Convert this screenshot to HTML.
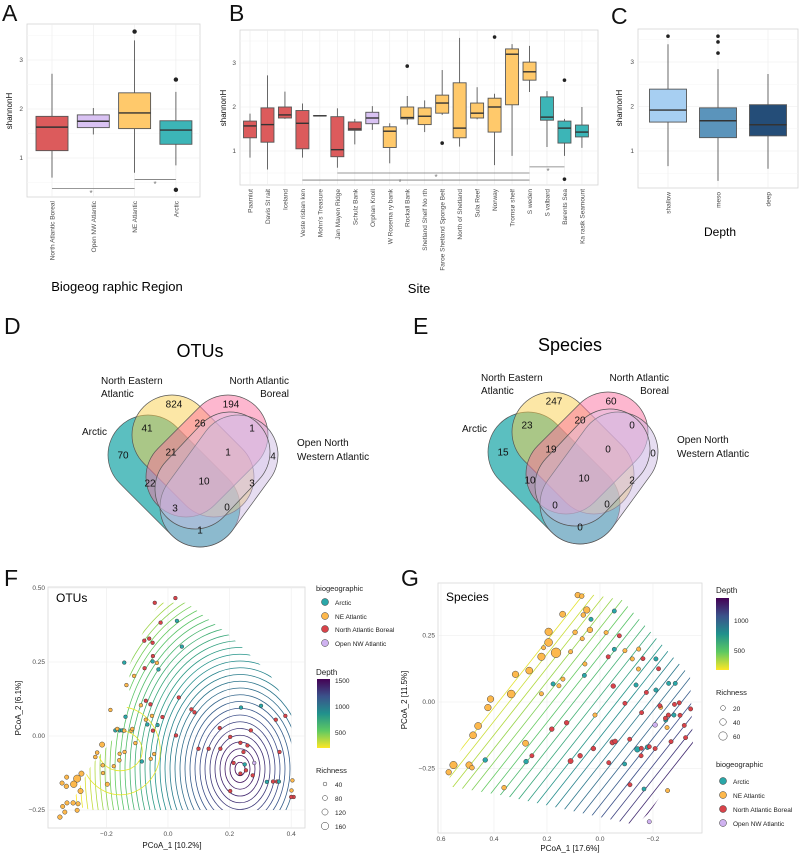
<!DOCTYPE html>
<html><head><meta charset="utf-8">
<style>
html,body{margin:0;padding:0;background:#fff;width:800px;height:854px;overflow:hidden;}
svg{display:block;font-family:"Liberation Sans",sans-serif;}
.tk{font-size:6.5px;fill:#4d4d4d;}
.xl{font-size:6.5px;fill:#4d4d4d;}
.ax{font-size:8px;fill:#111;}
.lg{font-size:7px;fill:#222;}
.vn{font-size:10px;fill:#111;}
.letter{font-size:23px;fill:#111;}
</style></head>
<body>
<svg id="fig" width="800" height="854" viewBox="0 0 800 854" xmlns="http://www.w3.org/2000/svg" overflow="hidden">
<defs>
<linearGradient id="vir" x1="0" y1="1" x2="0" y2="0">
<stop offset="0" stop-color="#fde725"/><stop offset="0.25" stop-color="#5ec962"/><stop offset="0.5" stop-color="#21918c"/><stop offset="0.75" stop-color="#3b528b"/><stop offset="1" stop-color="#440154"/>
</linearGradient>
</defs>
<text x="2" y="21" class="letter">A</text>
<text x="229" y="21" class="letter">B</text>
<text x="611" y="24" class="letter">C</text>
<text x="4" y="334" class="letter">D</text>
<text x="413" y="334" class="letter">E</text>
<text x="4" y="586" class="letter">F</text>
<text x="401" y="586" class="letter">G</text>

<text x="117" y="291" text-anchor="middle" style="font-size:13px">Biogeog  raphic Region</text>
<text transform="translate(12,111) rotate(-90)" text-anchor="middle" class="ax">shannonH</text>
<text x="419" y="293" text-anchor="middle" style="font-size:13px">Site</text>
<text transform="translate(226,108) rotate(-90)" text-anchor="middle" class="ax">shannonH</text>
<text x="720" y="236" text-anchor="middle" style="font-size:12px">Depth</text>
<text transform="translate(622,108) rotate(-90)" text-anchor="middle" class="ax">shannonH</text>

<g id="venns"></g>
<text x="200" y="357" text-anchor="middle" style="font-size:18px">OTUs</text>
<text x="570" y="351" text-anchor="middle" style="font-size:18px">Species</text>

<g id="F"></g>
<g id="G"></g>
<text x="172" y="848" text-anchor="middle" class="ax">PCoA_1 [10.2%]</text>
<text transform="translate(21,708) rotate(-90)" text-anchor="middle" class="ax">PCoA_2 [6.1%]</text>
<text x="570" y="851" text-anchor="middle" class="ax">PCoA_1 [17.6%]</text>
<text transform="translate(407,700) rotate(-90)" text-anchor="middle" class="ax">PCoA_2 [11.5%]</text>
<text x="56" y="602" style="font-size:12px">OTUs</text>
<text x="446" y="601" style="font-size:12px">Species</text>

<g>
<text x="316" y="591" class="lg" style="font-size:7.5px">biogeographic</text>
<circle cx="325" cy="602" r="3.5" fill="#2aa7a8" stroke="#333" stroke-width="0.5"/><text x="335" y="605" class="lg" style="font-size:6.5px">Arctic</text>
<circle cx="325" cy="616" r="3.5" fill="#fdb84c" stroke="#333" stroke-width="0.5"/><text x="335" y="619" class="lg" style="font-size:6.5px">NE Atlantic</text>
<circle cx="325" cy="629" r="3.5" fill="#d9434a" stroke="#333" stroke-width="0.5"/><text x="335" y="632" class="lg" style="font-size:6.5px">North Atlantic Boreal</text>
<circle cx="325" cy="643" r="3.5" fill="#cfb2f0" stroke="#333" stroke-width="0.5"/><text x="335" y="646" class="lg" style="font-size:6.5px">Open NW Atlantic</text>
<text x="316" y="675" class="lg" style="font-size:8px">Depth</text>
<rect x="317" y="679" width="13" height="69" fill="url(#vir)"/>
<text x="335" y="683" class="lg" style="font-size:6.5px">1500</text>
<text x="335" y="709" class="lg" style="font-size:6.5px">1000</text>
<text x="335" y="735" class="lg" style="font-size:6.5px">500</text>
<text x="316" y="773" class="lg" style="font-size:7.5px">Richness</text>
<circle cx="325" cy="784" r="1.9" fill="none" stroke="#333" stroke-width="0.5"/><text x="335" y="787" class="lg" style="font-size:6.5px">40</text>
<circle cx="325" cy="798" r="2.5" fill="none" stroke="#333" stroke-width="0.5"/><text x="335" y="801" class="lg" style="font-size:6.5px">80</text>
<circle cx="325" cy="812" r="3.1" fill="none" stroke="#333" stroke-width="0.5"/><text x="335" y="815" class="lg" style="font-size:6.5px">120</text>
<circle cx="325" cy="826" r="3.7" fill="none" stroke="#333" stroke-width="0.5"/><text x="335" y="829" class="lg" style="font-size:6.5px">160</text>
</g>
<g>
<text x="716" y="593" class="lg" style="font-size:8px">Depth</text>
<rect x="716" y="598" width="13" height="72" fill="url(#vir)"/>
<text x="734" y="623" class="lg" style="font-size:6.5px">1000</text>
<text x="734" y="653" class="lg" style="font-size:6.5px">500</text>
<text x="716" y="695" class="lg" style="font-size:7.5px">Richness</text>
<circle cx="723" cy="708" r="2.4" fill="none" stroke="#333" stroke-width="0.5"/><text x="733" y="711" class="lg" style="font-size:6.5px">20</text>
<circle cx="723" cy="722" r="3.3" fill="none" stroke="#333" stroke-width="0.5"/><text x="733" y="725" class="lg" style="font-size:6.5px">40</text>
<circle cx="723" cy="736" r="4.2" fill="none" stroke="#333" stroke-width="0.5"/><text x="733" y="739" class="lg" style="font-size:6.5px">60</text>
<text x="716" y="767" class="lg" style="font-size:7.5px">biogeographic</text>
<circle cx="723" cy="781" r="3.5" fill="#2aa7a8" stroke="#333" stroke-width="0.5"/><text x="733" y="784" class="lg" style="font-size:6.5px">Arctic</text>
<circle cx="723" cy="795" r="3.5" fill="#fdb84c" stroke="#333" stroke-width="0.5"/><text x="733" y="798" class="lg" style="font-size:6.5px">NE Atlantic</text>
<circle cx="723" cy="809" r="3.5" fill="#d9434a" stroke="#333" stroke-width="0.5"/><text x="733" y="812" class="lg" style="font-size:6.5px">North Atlantic Boreal</text>
<circle cx="723" cy="823" r="3.5" fill="#cfb2f0" stroke="#333" stroke-width="0.5"/><text x="733" y="826" class="lg" style="font-size:6.5px">Open NW Atlantic</text>
</g>
</svg>
<script>
// ===== Panel A data =====
const catsA = ["North Atlantic Boreal","Open NW Atlantic","NE Atlantic","Arctic"];
const lowA = [0.6,1.48,0.7,0.85];
const q1A = [1.15,1.62,1.6,1.28];
const medA = [1.63,1.75,1.92,1.57];
const q3A = [1.85,1.88,2.33,1.76];
const highA = [2.72,2.02,3.4,2.35];
const outA = [[],[],[3.58],[2.6,0.35]];
const fillA = ["#dc5b5c","#d9c2f3","#ffc96b","#3cb5b7"];
// ===== Panel B data =====
const catsB = ["Paamiut","Davis St rait","Iceland","Veste risban ken","Mohn's Treasure","Jan Mayen Ridge","Schulz Bank","Orphan Knoll","W Rosema  ry bank","Rockall Bank","Shetland Shelf No  rth","Faroe Shetland Sponge Belt","North of Shetland","Sula Reef","Norway","Tromsø shelf","S weden","S valbard","Barents Sea","Ka rasik Seamount"];
const lowB = [0.85,0.58,1.73,0.85,1.8,0.62,1.15,1.48,0.72,1.6,1.43,1.82,1.1,1.72,0.68,0.89,2.34,1.09,0.89,1.07];
const q1B = [1.3,1.2,1.75,1.05,1.8,0.87,1.47,1.62,1.08,1.73,1.6,1.86,1.3,1.75,1.43,2.05,2.61,1.7,1.18,1.32];
const medB = [1.57,1.6,1.82,1.63,1.8,1.03,1.5,1.75,1.45,1.76,1.79,2.09,1.52,1.86,2.0,3.2,2.8,1.77,1.52,1.43];
const q3B = [1.68,1.98,2.0,1.92,1.8,1.78,1.66,1.88,1.55,2.0,1.98,2.27,2.55,2.09,2.2,3.32,3.02,2.23,1.68,1.59];
const highB = [1.85,2.72,2.35,2.08,1.8,1.97,1.73,2.02,1.63,2.25,2.15,2.84,3.57,2.45,2.3,3.43,3.39,2.36,1.73,2.0];
const outB = [[],[],[],[],[],[],[],[],[],[2.93],[],[1.18],[],[],[3.59],[],[],[],[2.61,0.36],[]];
const groupB = ["B","B","B","B","B","B","B","O","N","N","N","N","N","N","N","N","N","A","A","A"];
// ===== Panel C data =====
const catsC = ["shallow","meso","deep"];
const lowC = [0.66,0.33,0.6];
const q1C = [1.65,1.3,1.34];
const medC = [1.92,1.68,1.59];
const q3C = [2.39,1.97,2.04];
const highC = [3.4,2.84,2.73];
const outC = [[3.58],[3.58,3.45,3.2],[]];
const fillC = ["#a7cff2","#5b94bb","#244d78"];
const yTicks = [1,2,3];

const GCOL = {A:"#2aa7a8",N:"#fdb84c",B:"#d9434a",O:"#cfb2f0"};
const BOXCOL = {A:"#3cb5b7",N:"#ffc96b",B:"#dc5b5c",O:"#d9c2f3"};

const NS = "http://www.w3.org/2000/svg";
const svg = document.getElementById("fig");
function mk(tag, attrs, parent){
  const e = document.createElementNS(NS, tag);
  for (const k in attrs) e.setAttribute(k, attrs[k]);
  (parent || svg).appendChild(e);
  return e;
}

function boxPanel(P){
  const g = mk("g", {});
  
  
  const bg = mk("rect", {x:P.x0, y:P.y0, width:P.x1-P.x0, height:P.y1-P.y0, fill:"#fff", stroke:"#d4d4d4", "stroke-width":0.8}, g);
  
  
  const n = P.cats.length;
  const xs = i => P.xa + i * P.dx;
  for (let v = 0.5; v <= 3.5; v += 0.5) {
    const yy = P.y(v);
    if (yy < P.y0 || yy > P.y1) continue;
    const gl = mk("line", {x1:P.x0, x2:P.x1, y1:yy, y2:yy, stroke: (v % 1 === 0) ? "#ebebeb" : "#f5f5f5", "stroke-width":0.6}, g);
    
    
  }
  yTicks.forEach(v => {
    const t = mk("text", {x:P.x0-4, y:P.y(v)+2, "text-anchor":"end", class:"tk"}, g);
    t.textContent = v;
    
    
  });
  for (let i = 0; i < n; i++) {
    const cx = xs(i);
    const vl = mk("line", {x1:cx, x2:cx, y1:P.y0, y2:P.y1, stroke:"#ebebeb", "stroke-width":0.6}, g);
    
    
    const w = mk("line", {x1:cx, x2:cx, y1:P.y(P.hi[i]), y2:P.y(P.lo[i]), stroke:"#444", "stroke-width":0.8}, g);
    
    
    const b = mk("rect", {x:cx-P.bw/2, y:P.y(P.q3[i]), width:P.bw, height:Math.max(0.01, P.y(P.q1[i])-P.y(P.q3[i])), fill:P.fill(i), stroke:"#555", "stroke-width":0.9}, g);
    
    
    const m = mk("line", {x1:cx-P.bw/2, x2:cx+P.bw/2, y1:P.y(P.med[i]), y2:P.y(P.med[i]), stroke:"#333", "stroke-width":1.4}, g);
    
    
    P.out[i].forEach(o => {
      const c = mk("circle", {cx:cx, cy:P.y(o), r:P.or, fill:"#222"}, g);
      
      
    });
    const lab = mk("text", {transform:`translate(${cx+2.5},${P.y1+4}) rotate(-90)`, "text-anchor":"end", class:"xl"}, g);
    lab.textContent = P.cats[i];
    
    
  }
  return {g, xs};
}
function bracket(g, x1, x2, yy, tick, sx, sy){
  const p = mk("path", {d:`M${x1},${yy-tick}V${yy}H${x2}V${yy-tick}`, fill:"none", stroke:"#777", "stroke-width":0.8}, g);
  
  
  const s = mk("text", {x:sx, y:sy, "text-anchor":"middle", style:"font-size:8px;fill:#777"}, g);
  s.textContent = "*";
  
  
}

const yA = v => 158 - (v-1)*49;
const pa = boxPanel({name:"panel-a-boxplot", x0:27, x1:200, y0:24, y1:197, xa:52, dx:41.3, bw:32, or:2.2, y:yA, cats:catsA, lo:lowA, q1:q1A, med:medA, q3:q3A, hi:highA, out:outA, fill:i=>fillA[i]});
bracket(pa.g, pa.xs(0), pa.xs(2), yA(0.38), 0, 91, 196);
bracket(pa.g, pa.xs(2), pa.xs(3), yA(0.56), 0, 155, 187);
const yB = v => 151 - (v-1)*44;
const pb = boxPanel({name:"panel-b-boxplot", x0:240, x1:598, y0:30, y1:185, xa:250, dx:17.47, bw:13, or:1.8, y:yB, cats:catsB, lo:lowB, q1:q1B, med:medB, q3:q3B, hi:highB, out:outB, fill:i=>BOXCOL[groupB[i]]});
bracket(pb.g, pb.xs(3), pb.xs(16), yB(0.34), 0, 400, 185);
bracket(pb.g, pb.xs(5), pb.xs(16), yB(0.5), 0, 436, 180);
bracket(pb.g, pb.xs(16), pb.xs(18), yB(0.64), 0, 548, 174);
const yC = v => 151 - (v-1)*44.5;
boxPanel({name:"panel-c-boxplot", x0:638, x1:798, y0:29, y1:188, xa:668, dx:50, bw:37, or:1.8, y:yC, cats:catsC, lo:lowC, q1:q1C, med:medC, q3:q3C, hi:highC, out:outC, fill:i=>fillC[i]});

// ===== Venn data =====
const vennD = [824,194,41,26,1,70,21,1,4,22,10,3,3,0,1];
const vennE = [247,60,23,20,0,15,19,0,0,10,10,2,0,0,0];
const vennPos = [[174,404],[231,404],[147,428],[200,423],[252,428],[123,455],[171,452],[228,452],[273,456],[150,483],[204,481],[252,483],[175,508],[227,507],[200,530]];
function venn(ox, oy, vals, name){
  const g = mk("g", {transform:`translate(${ox},${oy})`}, document.getElementById("venns"));
  
  
  const shapes = [
    {a:[148,455], b:[200,507], fill:"#24a9ab", op:0.75, n:"arctic-set"},
    {a:[172,435], b:[214,477], fill:"#f9cf4e", op:0.5, n:"ne-atlantic-set"},
    {a:[228,435], b:[186,477], fill:"#fb70a0", op:0.5, n:"na-boreal-set"},
    {a:[238,455], b:[200,507], fill:"#c7b3e0", op:0.45, n:"open-nw-atlantic-set"},
    {a:[230,452], b:[195,489], fill:"#d6c4ea", op:0.35, n:"open-nw-atlantic-core"}
  ];
  const r = 40;
  shapes.forEach(s => {
    const cx = (s.a[0]+s.b[0])/2, cy = (s.a[1]+s.b[1])/2;
    const L = Math.hypot(s.b[0]-s.a[0], s.b[1]-s.a[1]) + 2*r;
    const ang = Math.atan2(s.b[1]-s.a[1], s.b[0]-s.a[0]) * 180 / Math.PI;
    const e = mk("rect", {x:cx-L/2, y:cy-r, width:L, height:2*r, rx:r, ry:r, fill:s.fill, "fill-opacity":s.op, stroke:"#555", "stroke-width":0.7, transform:`rotate(${ang},${cx},${cy})`}, g);
    
    
  });
  vals.forEach((v, i) => {
    const t = mk("text", {x:vennPos[i][0], y:vennPos[i][1]+3.5, "text-anchor":"middle", class:"vn"}, g);
    t.textContent = v;
    
    
  });
  const labs = [["North Eastern",101,384,"start"],["Atlantic",101,397,"start"],["North  Atlantic",289,384,"end"],["Boreal",289,397,"end"],["Arctic",82,435,"start"],["Open North",297,446,"start"],["Western  Atlantic",297,460,"start"]];
  labs.forEach(l => {
    const t = mk("text", {x:l[1], y:l[2], "text-anchor":l[3], class:"vn"}, g);
    t.textContent = l[0];
    
    
  });
}
venn(0, 0, vennD, "venn-otus");
venn(380, -3, vennE, "venn-species");

const VS = [[0,[68,1,84]],[0.25,[59,82,139]],[0.5,[33,145,140]],[0.75,[94,201,98]],[1,[253,231,37]]];
function viridis(t){
  t = Math.max(0, Math.min(1, t));
  for (let i = 0; i < VS.length-1; i++) {
    if (t <= VS[i+1][0]) {
      const a = VS[i], b = VS[i+1], f = (t-a[0])/(b[0]-a[0]);
      return `rgb(${a[1].map((c,j)=>Math.round(c+(b[1][j]-c)*f)).join(",")})`;
    }
  }
  return "rgb(253,231,37)";
}

// ===== Panel F data =====
const fX = [0.024,-0.043,-0.024,-0.077,-0.061,-0.05,-0.049,-0.076,-0.057,-0.018,-0.049,-0.072,0.076,0.086,0.026,0.035,0.099,0.132,0.17,0.202,0.235,0.269,0.258,0.245,0.213,0.253,0.235,0.275,0.202,0.381,0.35,0.362,0.341,0.354,0.408,0.4,0.168,
 0.029,0.045,-0.142,-0.05,-0.031,-0.138,-0.171,-0.157,-0.148,-0.067,-0.034,0.237,0.302,0.249,0.321,0.36,-0.085,
 -0.036,-0.135,-0.11,-0.187,-0.165,-0.142,-0.119,-0.106,-0.141,-0.045,-0.056,-0.088,-0.052,-0.072,-0.116,-0.176,-0.211,0.404,0.401,
 0.28,
 -0.214,-0.23,-0.236,-0.212,-0.158,-0.157,-0.197,-0.295,-0.281,-0.284,-0.306,-0.329,-0.344,-0.33,-0.328,-0.308,-0.292,-0.295,-0.342,-0.335,-0.351];
const fY = [0.466,0.45,0.383,0.322,0.329,0.315,0.27,0.229,0.107,0.064,0.018,0.119,0.09,0.08,0.002,0.13,-0.043,-0.043,-0.043,-0.003,-0.023,0.019,-0.032,-0.054,-0.091,-0.116,-0.127,-0.133,-0.186,0.068,0.055,-0.054,-0.154,-0.154,-0.206,-0.206,0.027,
 0.389,0.302,0.248,0.252,0.225,0.065,0.019,0.019,0.019,0.039,0.037,0.096,0.102,-0.096,-0.155,-0.154,-0.086,
 0.247,0.172,0.203,0.088,0.024,0.018,0.018,-0.024,-0.054,-0.061,-0.077,0.104,0.068,0.055,0.024,-0.102,-0.125,-0.15,-0.184,
 -0.091,
 -0.029,-0.056,-0.071,-0.099,-0.082,-0.06,-0.163,-0.144,-0.127,-0.186,-0.163,-0.139,-0.159,-0.17,-0.226,-0.226,-0.229,-0.251,-0.238,-0.257,-0.274];
const fGroup = "BBBBBBBBBBBBBBBBBBBBBBBBBBBBBBBBBBBBB" + "AAAAAAAAAAAAAAAAA" + "NNNNNNNNNNNNNNNNNNN" + "O" + "NNNNNNNNNNNNNNNNNNNNN";
const fRich = [].concat(Array(37).fill(40), Array(17).fill(40), Array(19).fill(40), [40],
 [91,46,46,40,46,40,60,158,91,91,136,60,60,69,60,69,60,60,60,60,69]);
const fDepthLevels = [1475,1435,1395,1355,1315,1275,1235,1195,1155,1115,1075,1035,995,955,915,875,835,795,755,715,675,635,595,555,515,475,435,395,355,315,275,235,195];
const fTicksX = [-0.2,0.0,0.2,0.4];
const fTicksY = [-0.25,0.00,0.25,0.50];
const fHull = [[-0.3,-0.2],[-0.25,-0.1],[-0.17,0.0],[-0.125,0.12],[-0.125,0.24],[-0.09,0.33],[-0.06,0.40],[-0.02,0.45],[0.06,0.45],[0.2,0.34],[0.33,0.21],[0.4,0.08],[0.4,-0.25],[-0.12,-0.25],[-0.25,-0.25],[-0.32,-0.23]];

const fx = v => 168 + v*308;
const fy = v => 736 - v*296;
function scatterPanel(P){
  const g = mk("g", {}, document.getElementById(P.id));
  
  
  const bg = mk("rect", {x:P.x0, y:P.y0, width:P.x1-P.x0, height:P.y1-P.y0, fill:"#fff", stroke:"#d8d8d8", "stroke-width":0.8}, g);
  
  
  P.tx.forEach(v => {
    const xx = P.X(v);
    const l = mk("line", {x1:xx, x2:xx, y1:P.y0, y2:P.y1, stroke:"#ececec", "stroke-width":0.6}, g);
    
    
    const t = mk("text", {x:xx, y:P.y1+8, "text-anchor":"middle", class:"tk"}, g);
    t.textContent = (v < 0 ? "\u2212" : "") + Math.abs(v).toFixed(1);
    
    
  });
  P.ty.forEach(v => {
    const yy = P.Y(v);
    if (yy < P.y0-1 || yy > P.y1+1) return;
    const l = mk("line", {x1:P.x0, x2:P.x1, y1:yy, y2:yy, stroke:"#ececec", "stroke-width":0.6}, g);
    
    
    const t = mk("text", {x:P.x0-3, y:yy+2, "text-anchor":"end", class:"tk"}, g);
    t.textContent = (v < 0 ? "\u2212" : "") + Math.abs(v).toFixed(2);
    
    
  });
  const cp = mk("clipPath", {id:P.id+"clip"}, g);
  const poly = mk("polygon", {points:P.hull.map(p=>p.join(",")).join(" ")}, cp);
  
  
  const cg = mk("g", {"clip-path":`url(#${P.id}clip)`}, g);
  
  
  P.contours(cg);
  const pg = mk("g", {}, g);
  for (let i = 0; i < P.xs.length; i++) {
    const c = mk("circle", {cx:P.X(P.xs[i]), cy:P.Y(P.ys[i]), r:P.R(P.rich[i]), fill:GCOL[P.grp[i]], stroke:"#333", "stroke-width":0.45}, pg);
    
    
  }
}
scatterPanel({id:"F", name:"panel-f-pcoa-otus", x0:48, x1:305, y0:587, y1:828, X:fx, Y:fy, tx:fTicksX, ty:fTicksY,
  hull:fHull.map(p=>[fx(p[0]), fy(p[1])]), xs:fX, ys:fY, grp:fGroup, rich:fRich, R:r=>1.3+r*0.015,
  contours:(cg)=>{
    fDepthLevels.forEach((lv, k) => {
      const rx = 5 + k*5;
      const e = mk("ellipse", {cx:240, cy:769, rx:rx, ry:rx*1.35, fill:"none", stroke:viridis(1-(lv-200)/1300), "stroke-width":0.8}, cg);
      
      
    });
    [[22,20],[40,44]].forEach(r => {
      const e = mk("ellipse", {cx:fx(-0.155), cy:fy(-0.05), rx:r[0], ry:r[1], fill:"none", stroke:"#e6e52a", "stroke-width":0.8}, cg);
      
      
    });
  }});

// ===== Panel G data =====
const gX = [0.084,0.069,0.05,0.141,0.063,0.038,0.094,0.194,0.194,0.166,0.221,0.267,0.319,0.335,0.413,0.423,0.46,0.479,0.281,0.553,0.571,0.494,0.483,0.362,0.213,0.111,0.067,0.14,0.155,0.221,0.057,0.019,-0.023,-0.094,-0.146,-0.122,-0.145,-0.229,-0.253,-0.255,
 -0.054,0.034,-0.054,0.059,0.177,-0.136,-0.211,-0.211,-0.259,-0.284,-0.279,-0.141,-0.179,0.433,0.279,-0.093,-0.166,-0.248,
 -0.073,-0.031,-0.162,-0.221,-0.05,-0.175,-0.094,-0.226,-0.281,-0.299,-0.342,-0.157,-0.258,-0.302,-0.247,0.182,0.126,-0.047,-0.057,-0.112,-0.268,-0.323,0.025,-0.208,-0.156,-0.186,-0.155,0.111,0.075,0.257,-0.033,-0.113,-0.318,
 -0.208,-0.186];
const gY = [0.402,0.398,0.346,0.33,0.327,0.271,0.262,0.264,0.224,0.185,0.17,0.118,0.104,0.03,0.011,-0.021,-0.09,-0.125,-0.155,-0.237,-0.264,-0.237,-0.247,-0.322,0.204,0.189,0.238,0.086,0.061,0.031,0.143,-0.049,0.261,0.193,0.199,0.162,0.124,-0.02,-0.096,-0.333,
 0.342,0.311,0.198,0.1,0.068,0.064,0.162,0.045,0.07,0.07,-0.049,-0.178,-0.17,-0.218,-0.224,-0.233,-0.327,-0.068,
 0.249,0.17,0.163,0.125,0.06,0.036,-0.005,-0.014,-0.009,-0.003,-0.026,-0.04,-0.049,-0.05,-0.061,-0.102,-0.078,-0.152,-0.148,-0.14,-0.149,-0.134,-0.175,-0.175,-0.174,-0.168,-0.202,-0.222,-0.202,-0.202,-0.228,-0.311,-0.088,
 -0.086,-0.45];
const gGroup = "NNNNNNNNNNNNNNNNNNNNNNNNNNNNNNNNNNNNNNNN" + "AAAAAAAAAAAAAAAAAA" + "BBBBBBBBBBBBBBBBBBBBBBBBBBBBBBBBB" + "OO";
const gRich = [30,20,40,35,20,30,20,50,55,75,50,45,40,55,40,40,45,45,35,50,30,40,20,20,15,15,15,15,15,15,15,15,15,15,15,15,15,15,15,15,
 15,15,15,15,15,15,15,15,15,15,15,30,20,20,20,12,12,15,
 15,15,15,15,20,15,15,15,15,15,15,15,15,15,15,20,20,25,20,15,15,15,20,15,15,15,15,25,20,15,15,15,15,
 20,15];
const gDepthLevels = [200,250,300,350,400,450,500,550,600,650,700,750,800,850,900,950,1000,1050,1100,1150,1200,1250,1300];
const gTicksX = [0.6,0.4,0.2,0.0,-0.2];
const gTicksY = [-0.25,0.00,0.25];
const gx = v => 600 - v*265;
const gy = v => 702 - v*266;
scatterPanel({id:"G", name:"panel-g-pcoa-species", x0:438, x1:702, y0:583, y1:833, X:gx, Y:gy, tx:gTicksX, ty:gTicksY,
  hull:[[447,786],[455,760],[522,640],[578,592],[622,600],[690,676],[693,745],[650,812],[636,825],[500,795]],
  xs:gX, ys:gY, grp:gGroup, rich:gRich, R:r=>1.5+r*0.045,
  contours:(cg)=>{
    const dx = 0.62, dy = -0.785, nx = 0.785, ny = 0.62;
    gDepthLevels.forEach(lv => {
      const d = 826 + (lv-200)/1100*186;
      const cx = nx*d, cy = ny*d;
      const l = mk("line", {x1:cx-dx*400, y1:cy-dy*400, x2:cx+dx*400, y2:cy+dy*400, stroke:viridis(1-(lv-150)/1250), "stroke-width":0.8}, cg);
      
      
    });
  }});
</script>
</body></html>
